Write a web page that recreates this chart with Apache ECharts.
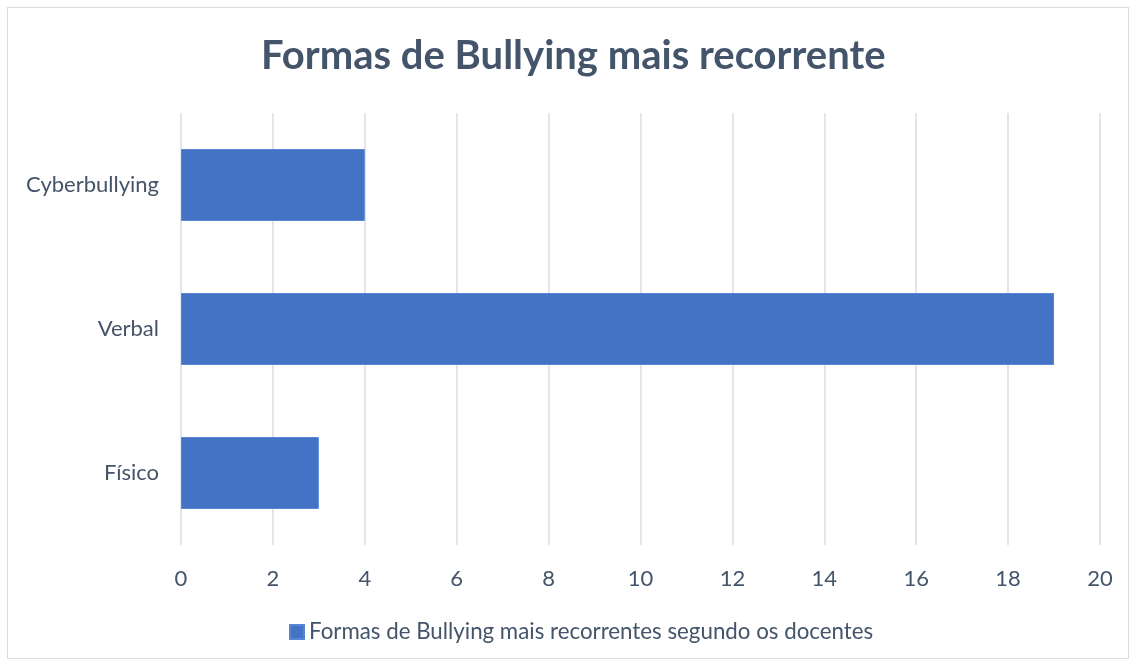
<!DOCTYPE html>
<html>
<head>
<meta charset="utf-8">
<script src="https://cdn.jsdelivr.net/npm/echarts@6/dist/echarts.min.js"></script>
<style>
  html, body { margin: 0; padding: 0; background: #fff; }
  #chart { width: 1134px; height: 666px; }
  .frame { position: absolute; left: 7px; top: 7px; width: 1122px; height: 652px; border: 1px solid #d9dde3; box-sizing: border-box; pointer-events: none; }
</style>
</head>
<body>
<div id="chart"></div>
<div class="frame"></div>
<script>
// categorias (de baixo para cima)
const categories = ['Físico', 'Verbal', 'Cyberbullying']
const values = [3, 19, 4]
const seriesName = 'Formas de Bullying mais recorrentes segundo os docentes'

const textColor = '#44546a'
const font = 'Lato, "Open Sans", sans-serif'

const chart = echarts.init(document.getElementById('chart'))

chart.setOption({
  animation: false,
  title: {
    text: 'Formas de Bullying mais recorrente',
    left: 256,
    top: 31,
    textStyle: { fontFamily: font, fontSize: 40, fontWeight: 'bold', color: textColor },
  },
  legend: {
    data: [seriesName],
    bottom: 18,
    left: 284,
    icon: 'rect',
    itemWidth: 14,
    itemHeight: 14,
    itemGap: 6,
    textStyle: { fontFamily: font, fontSize: 22.3, color: textColor },
  },
  grid: {
    left: 181,
    right: 34,
    top: 113,
    bottom: 121,
  },
  xAxis: {
    type: 'value',
    min: 0,
    max: 20,
    interval: 2,
    axisLine: { show: false },
    axisTick: { show: false },
    axisLabel: { fontFamily: font, fontSize: 22, color: textColor, margin: 23 },
    splitLine: { lineStyle: { color: '#d9dde6', width: 1.5 } },
  },
  yAxis: {
    type: 'category',
    data: categories,
    axisLine: { show: false },
    axisTick: { show: false },
    axisLabel: { fontFamily: font, fontSize: 22, color: textColor, margin: 22 },
  },
  series: [
    {
      name: seriesName,
      type: 'bar',
      data: values,
      barWidth: '50%',
      itemStyle: { color: '#4472c4', borderColor: '#5a86d6', borderWidth: 1 },
    },
  ],
})
</script>
</body>
</html>
